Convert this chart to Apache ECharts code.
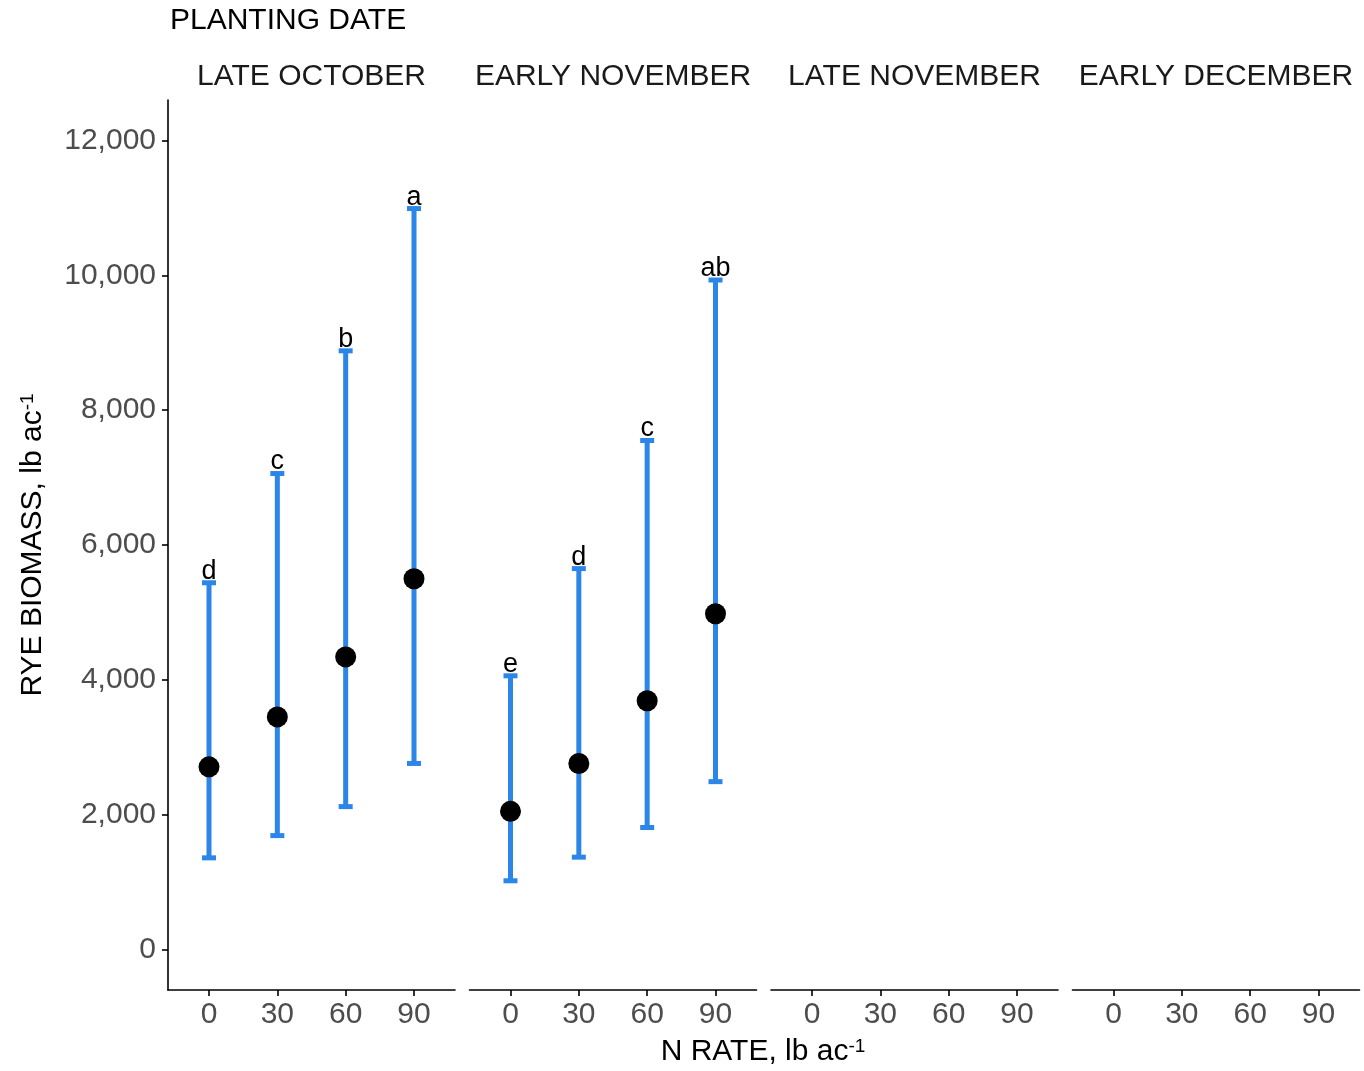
<!DOCTYPE html>
<html>
<head>
<meta charset="utf-8">
<script src="https://cdn.jsdelivr.net/npm/echarts@6/dist/echarts.min.js"></script>
<style>
html,body{margin:0;padding:0;background:#fff;}
#chart{width:1364px;height:1071px;}
</style>
</head>
<body>
<div id="chart"></div>
<script>
// ---- data ----
const plantingDates = ['LATE OCTOBER', 'EARLY NOVEMBER', 'LATE NOVEMBER', 'EARLY DECEMBER'];
const nRates = [0, 30, 60, 90];
const yTicks = [0, 2000, 4000, 6000, 8000, 10000, 12000];

const meanLateOct = [2710, 3450, 4340, 5500];
const lowerLateOct = [1360, 1690, 2120, 2760];
const upperLateOct = [5440, 7060, 8880, 10990];
const lettersLateOct = ['d', 'c', 'b', 'a'];

const meanEarlyNov = [2050, 2760, 3690, 4980];
const lowerEarlyNov = [1020, 1370, 1810, 2490];
const upperEarlyNov = [4060, 5650, 7550, 9930];
const lettersEarlyNov = ['e', 'd', 'c', 'ab'];

// ---- chart ----
const FONT = 'Liberation Sans, Arial, sans-serif';
const BLUE = '#2C86E8';
const FS = 30;
const panelLefts = [168, 469.5, 771, 1072.5];
const panelWidth = 287;
const gridTop = 100, gridHeight = 890;

const grids = [], xAxes = [], yAxes = [], series = [], graphics = [];

plantingDates.forEach((name, i) => {
  grids.push({left: panelLefts[i], top: gridTop, width: panelWidth, height: gridHeight, containLabel: false});
  xAxes.push({
    type: 'value', gridIndex: i, min: -18, max: 108,
    splitLine: {show: false},
    axisLine: {show: true, onZero: false, lineStyle: {color: '#000', width: 1.6}},
    axisTick: {show: true, length: 6, customValues: nRates, lineStyle: {color: '#000', width: 1.6}},
    axisLabel: {show: true, customValues: nRates, margin: 10, fontSize: FS, fontFamily: FONT, color: '#4D4D4D'}
  });
  const y = {
    type: 'value', gridIndex: i, min: -600, max: 12600,
    splitLine: {show: false}
  };
  if (i === 0) {
    Object.assign(y, {
      axisLine: {show: true, onZero: false, lineStyle: {color: '#000', width: 1.6}},
      axisTick: {show: true, length: 6, customValues: yTicks, lineStyle: {color: '#000', width: 1.6}},
      axisLabel: {show: true, customValues: yTicks, margin: 12, fontSize: FS, fontFamily: FONT, color: '#4D4D4D',
        formatter: v => Number(v).toLocaleString('en-US')},
      name: 'RYE BIOMASS, lb ac{sup|-1}',
      nameLocation: 'middle', nameRotate: 90, nameGap: 120,
      nameTextStyle: {fontSize: FS, fontFamily: FONT, color: '#000',
        rich: {sup: {fontSize: 19, fontFamily: FONT, color: '#000', verticalAlign: 'top'}}}
    });
  } else {
    Object.assign(y, {axisLine: {show: false, onZero: false}, axisTick: {show: false}, axisLabel: {show: false}});
  }
  yAxes.push(y);
  graphics.push({
    type: 'text', x: panelLefts[i] + panelWidth / 2, y: 77,
    style: {text: name, fontSize: FS, fontFamily: FONT, fill: '#1A1A1A', align: 'center', verticalAlign: 'middle'}
  });
});

function addPanel(idx, means, lows, highs, letters) {
  const barData = nRates.map((n, k) => [n, lows[k], highs[k]]);
  series.push({
    type: 'custom', xAxisIndex: idx, yAxisIndex: idx, data: barData,
    renderItem: function (params, api) {
      const x = api.value(0);
      const lo = api.coord([x, api.value(1)]);
      const hi = api.coord([x, api.value(2)]);
      const letter = letters[params.dataIndex];
      const cw = 7;
      const ls = {stroke: BLUE, lineWidth: 5};
      return {
        type: 'group',
        children: [
          {type: 'line', shape: {x1: lo[0], y1: lo[1], x2: hi[0], y2: hi[1]}, style: ls},
          {type: 'line', shape: {x1: lo[0] - cw, y1: lo[1], x2: lo[0] + cw, y2: lo[1]}, style: ls},
          {type: 'line', shape: {x1: hi[0] - cw, y1: hi[1], x2: hi[0] + cw, y2: hi[1]}, style: ls},
          {type: 'text', x: hi[0], y: hi[1] + 2,
            style: {text: letter, fontSize: 27, fontFamily: FONT, fill: '#000', align: 'center', verticalAlign: 'bottom'}}
        ]
      };
    },
    z: 2
  });
  series.push({
    type: 'scatter', xAxisIndex: idx, yAxisIndex: idx,
    data: nRates.map((n, k) => [n, means[k]]),
    symbol: 'circle', symbolSize: 21,
    itemStyle: {color: '#000', opacity: 1},
    z: 3
  });
}
addPanel(0, meanLateOct, lowerLateOct, upperLateOct, lettersLateOct);
addPanel(1, meanEarlyNov, lowerEarlyNov, upperEarlyNov, lettersEarlyNov);

graphics.push({
  type: 'text', x: 170, y: 21,
  style: {text: 'PLANTING DATE', fontSize: FS, fontFamily: FONT, fill: '#000', align: 'left', verticalAlign: 'middle'}
});
graphics.push({
  type: 'text', x: 763, y: 1052,
  style: {text: 'N RATE, lb ac{sup|-1}', fontSize: FS, fontFamily: FONT, fill: '#000', align: 'center', verticalAlign: 'middle',
    rich: {sup: {fontSize: 19, fontFamily: FONT, fill: '#000', verticalAlign: 'top'}}}
});

const chart = echarts.init(document.getElementById('chart'), null, {renderer: 'canvas'});
chart.setOption({
  animation: false,
  backgroundColor: '#fff',
  grid: grids,
  xAxis: xAxes,
  yAxis: yAxes,
  series: series,
  graphic: graphics
});
</script>
</body>
</html>
